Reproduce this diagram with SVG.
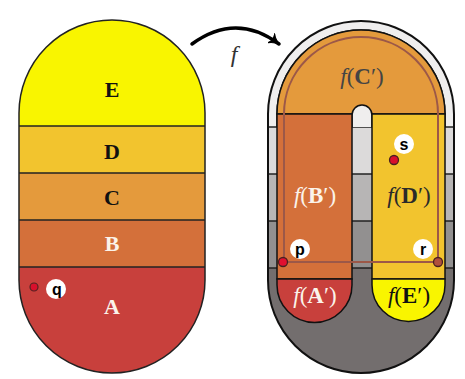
<svg xmlns="http://www.w3.org/2000/svg" width="465" height="379" viewBox="0 0 465 379">
<style>
.lbl{font-family:"Liberation Serif",serif;font-weight:bold;font-size:22px;text-anchor:middle}
.fl{font-family:"Liberation Serif",serif;font-size:23px;text-anchor:middle}
.pt{font-family:"Liberation Sans",sans-serif;font-weight:bold;font-size:16px;text-anchor:middle}
.edge{stroke:#222;stroke-width:1.5}
.bl{stroke:#111;stroke-width:1.5;fill:none}
</style>
<defs>
<clipPath id="capL"><path d="M19,113 A93,93 0 0 1 205,113 L205,280 A93,93 0 0 1 19,280 Z"/></clipPath>
<clipPath id="capR"><path d="M268,114 A93,93 0 0 1 454,114 L454,280 A93,93 0 0 1 268,280 Z"/></clipPath>
<marker id="ah" viewBox="0 0 12 12" refX="10" refY="6" markerWidth="12" markerHeight="12" markerUnits="userSpaceOnUse" orient="auto">
<path d="M0,0 Q5,5 11,6 Q5,7 0,12 Q4,6 0,0 Z" fill="#000" stroke="#000" stroke-width="1"/>
</marker>
</defs>
<rect width="465" height="379" fill="#fff"/>

<g id="left-capsule">
<g clip-path="url(#capL)">
<rect x="0" y="0" width="230" height="126" fill="#f9f500"/>
<rect x="0" y="126" width="230" height="47" fill="#f2c42e"/>
<rect x="0" y="173" width="230" height="47" fill="#e49a3c"/>
<rect x="0" y="220" width="230" height="47" fill="#d4703a"/>
<rect x="0" y="267" width="230" height="120" fill="#c8403c"/>
<line x1="0" y1="126" x2="230" y2="126" class="edge"/>
<line x1="0" y1="173" x2="230" y2="173" class="edge"/>
<line x1="0" y1="220" x2="230" y2="220" class="edge"/>
<line x1="0" y1="267" x2="230" y2="267" class="edge"/>
</g>
<path d="M19,113 A93,93 0 0 1 205,113 L205,280 A93,93 0 0 1 19,280 Z" fill="none" stroke="#222" stroke-width="1.5"/>
<text class="lbl" x="112" y="97" fill="#111">E</text>
<text class="lbl" x="112" y="159" fill="#111">D</text>
<text class="lbl" x="112" y="205" fill="#111">C</text>
<text class="lbl" x="112" y="251" fill="#fbf3ea">B</text>
<text class="lbl" x="112" y="314" fill="#fbf3ea">A</text>
</g>

<g id="point-q">
<circle cx="34" cy="287" r="4" fill="#d8102c" stroke="#552222" stroke-width="1.2"/>
<circle cx="56" cy="289" r="10" fill="#fff"/>
<text class="pt" x="57" y="295" fill="#000">q</text>
</g>

<g id="connectors">
<path d="M192,44 Q236,12 279,44" fill="none" stroke="#000" stroke-width="3.5" stroke-linecap="round" marker-end="url(#ah)"/>
<text x="234" y="62" font-family="Liberation Serif,serif" font-style="italic" font-size="24" fill="#333" text-anchor="middle">f</text>
</g>

<g id="right-capsule">
<g clip-path="url(#capR)">
<rect x="250" y="0" width="215" height="127" fill="#efeeee"/>
<rect x="250" y="127" width="215" height="47" fill="#dcdada"/>
<rect x="250" y="174" width="215" height="47" fill="#b7b5b5"/>
<rect x="250" y="221" width="215" height="47" fill="#929090"/>
<rect x="250" y="268" width="215" height="120" fill="#736e6e"/>
<line x1="250" y1="127" x2="465" y2="127" class="edge"/>
<line x1="250" y1="174" x2="465" y2="174" class="edge"/>
<line x1="250" y1="221" x2="465" y2="221" class="edge"/>
<line x1="250" y1="268" x2="465" y2="268" class="edge"/>
</g>
<path d="M277,127 L277,114 A84,84 0 0 1 445,114 L445,127" class="bl"/>
</g>

<g id="region-fC">
<path d="M277,114 A84,84 0 0 1 445,114 Z" fill="#e49a3c" stroke="#111" stroke-width="1.5"/>
<path d="M352,127 L352,115 A10,10 0 0 1 372,115 L372,127" fill="#efeeee" stroke="#111" stroke-width="1.5"/>
<text class="fl" x="362" y="84" fill="#444"><tspan font-style="italic">f</tspan>(<tspan font-weight="bold">C</tspan>′)</text>
</g>

<g id="region-fB">
<rect x="277" y="114" width="75" height="165" fill="#d4703a" stroke="#111" stroke-width="1.5"/>
<text class="fl" x="315" y="203" fill="#fbf3ea"><tspan font-style="italic">f</tspan>(<tspan font-weight="bold">B</tspan>′)</text>
</g>

<g id="region-fD">
<rect x="372" y="114" width="73" height="165" fill="#f2c42e" stroke="#111" stroke-width="1.5"/>
<text class="fl" x="409" y="203" fill="#2a2a2a"><tspan font-style="italic">f</tspan>(<tspan font-weight="bold">D</tspan>′)</text>
</g>

<g id="region-fA">
<path d="M277,279 L277,285 A37.5,37.5 0 0 0 352,285 L352,279 Z" fill="#c8403c" stroke="#111" stroke-width="1.5"/>
<text class="fl" x="315" y="303" fill="#fbf3ea"><tspan font-style="italic">f</tspan>(<tspan font-weight="bold">A</tspan>′)</text>
</g>

<g id="region-fE">
<path d="M372,279 L372,285 A36.5,36.5 0 0 0 445,285 L445,279 Z" fill="#f9f500" stroke="#111" stroke-width="1.5"/>
<text class="fl" x="409" y="303" fill="#111"><tspan font-style="italic">f</tspan>(<tspan font-weight="bold">E</tspan>′)</text>
</g>

<g id="right-outline">
<path d="M268,114 A93,93 0 0 1 454,114 L454,280 A93,93 0 0 1 268,280 Z" fill="none" stroke="#111" stroke-width="2"/>
</g>

<g id="loop">
<path d="M284,262 L284,114 A77,77 0 0 1 438,114 L438,262 Z" fill="none" stroke="#9c5848" stroke-width="2"/>
</g>

<g id="point-p">
<circle cx="283" cy="262" r="4.5" fill="#e01030" stroke="#4a2020" stroke-width="1.3"/>
<circle cx="300" cy="249" r="10" fill="#fff"/>
<text class="pt" x="300" y="255" fill="#000">p</text>
</g>

<g id="point-r">
<circle cx="438" cy="262" r="4.5" fill="#b0503c" stroke="#4a2020" stroke-width="1.3"/>
<circle cx="423" cy="249" r="10" fill="#fff"/>
<text class="pt" x="423" y="255" fill="#000">r</text>
</g>

<g id="point-s">
<circle cx="394" cy="160" r="4.5" fill="#d8102c" stroke="#4a2020" stroke-width="1.3"/>
<circle cx="404" cy="144" r="10" fill="#fff"/>
<text class="pt" x="404" y="150" fill="#000">s</text>
</g>
</svg>
